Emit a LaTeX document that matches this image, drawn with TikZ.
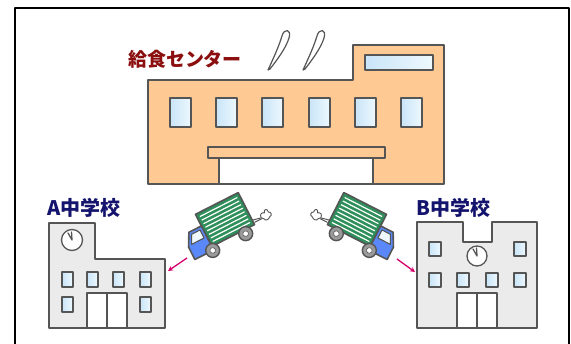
\documentclass[tikz,border=0pt]{standalone}
\usepackage{fontspec}
\usetikzlibrary{arrows.meta}
\newfontfamily\jpfont{Noto Sans CJK JP}
\definecolor{outline}{HTML}{555555}
\definecolor{peach}{HTML}{FFC994}
\definecolor{glassA}{HTML}{C9E5F8}
\definecolor{glassB}{HTML}{EEF8FE}
\definecolor{schoolgray}{HTML}{EBEBEB}
\definecolor{arrowpink}{HTML}{D6006B}
\definecolor{truckgreen}{HTML}{2F8F5B}
\definecolor{cabblue}{HTML}{5B88F8}
\definecolor{titlered}{HTML}{8B0F0F}
\definecolor{navy}{HTML}{14146E}
\definecolor{wheelgray}{HTML}{9A9A9A}
\begin{document}
\begin{tikzpicture}[x=1pt,y=-1pt,line join=round,
  wall/.style={draw=outline,line width=2pt},
  pane/.style={draw=outline,line width=1.4pt,left color=glassA,right color=glassB},
  doorbox/.style={draw=outline,line width=1.6pt,fill=white},
  steam/.style={draw=outline,line width=1.2pt,fill=white},
  label/.style={font=\jpfont\bfseries\fontsize{19}{19}\selectfont,inner sep=0pt},
  route/.style={draw=arrowpink,line width=1.3pt,-{Stealth[length=5pt,width=5pt]}},
  truck/.pic={
    % cargo box with white slats
    \draw[draw=outline,line width=1.6pt,fill=truckgreen] (-24,-18) rectangle (24,18);
    \foreach \s in {-14,-10,...,14}
      \draw[white,line width=1.2pt] (-21,\s) -- (21,\s);
    % cab
    \draw[draw=outline,line width=1.6pt,fill=cabblue]
      (-24,-5) -- (-38,-5) -- (-45,8) -- (-45,22) -- (-24,22) -- cycle;
    \draw[draw=outline,line width=1.1pt,fill=glassB]
      (-27,-2) -- (-36.5,-2) -- (-41,7) -- (-27,7) -- cycle;
    % wheels
    \foreach \w in {-25,12}{
      \draw[draw=outline,line width=1.4pt,fill=wheelgray] (\w,22) circle (7);
      \draw[draw=outline,line width=0.6pt,fill=white] (\w,22) circle (2.8);
    }
    % exhaust puff
    \draw[outline,line width=1pt] (24,13) -- (33,15);
    \draw[outline,line width=1pt] (25,16) -- (33,16);
    \draw[draw=outline,line width=0.9pt,fill=white]
      (33,15) .. controls (33,11) and (36,10) .. (38,12)
      .. controls (39,8) and (43,9) .. (42,13)
      .. controls (45,14) and (44,18) .. (41,18)
      .. controls (39,20) and (35,20) .. (35,17) -- cycle;
  }]
\useasboundingbox (0,0) rectangle (571,344);

% outer frame
\draw[black,line width=2pt] (15,346) -- (15,8) -- (569,8) -- (569,346);

% central kitchen
\draw[wall,fill=peach] (148,80) -- (353,80) -- (353,45) -- (444,45)
  -- (444,184) -- (148,184) -- cycle;
\path[pane] (365,55) rectangle (433,70);
\foreach \x in {170,216,262,309,355,401}
  \path[pane] (\x,98) rectangle ++(21,29);
\draw[wall,fill=white] (219,158) rectangle (373,184);
\draw[wall,fill=peach] (208,147) rectangle (385,158);

% steam
\draw[steam] (268,70) .. controls (274,57) and (279,46) .. (282,36)
  .. controls (284,28) and (292,29) .. (289,38)
  .. controls (286,48) and (277,60) .. (270,69) -- cycle;
\draw[steam] (303,70) .. controls (309,57) and (314,46) .. (317,36)
  .. controls (319,28) and (327,29) .. (324,38)
  .. controls (321,48) and (312,60) .. (305,69) -- cycle;

\node[label,text=titlered] (kitchen) at (185,59) {給食センター};

% school A
\draw[wall,fill=schoolgray] (49,223) -- (95,223) -- (95,259) -- (165,259)
  -- (165,328) -- (49,328) -- cycle;
\draw[draw=outline,line width=1.3pt,fill=white] (72,240) circle (10.5);
\draw[outline,line width=1.3pt,line cap=round] (72,240) -- (68,233) (72,240) -- (71.5,232);
\foreach \x in {62,87,113,140}
  \path[pane] (\x,272) rectangle ++(11,15);
\foreach \x in {62,140}
  \path[pane] (\x,297) rectangle ++(11,15);
\draw[doorbox] (87,293) rectangle (127,328);
\draw[outline,line width=1.6pt] (107,293) -- (107,328);
\node[label,text=navy,anchor=west,font=\jpfont\bfseries\fontsize{20}{20}\selectfont] (schoolA) at (47,208) {A中学校};

% school B
\draw[wall,fill=schoolgray] (417,222) -- (463,222) -- (463,242) -- (492,242)
  -- (492,222) -- (537,222) -- (537,328) -- (417,328) -- cycle;
\draw[draw=outline,line width=1.3pt,fill=white] (477,256) circle (10);
\draw[outline,line width=1.3pt,line cap=round] (477,256) -- (473,249) (477,256) -- (476.5,248);
\foreach \x in {429,514}
  \path[pane] (\x,242) rectangle ++(12,14);
\foreach \x in {429,457,486,514}
  \path[pane] (\x,273) rectangle ++(12,14);
\draw[doorbox] (457,293) rectangle (497,328);
\draw[outline,line width=1.6pt] (477,293) -- (477,328);
\node[label,text=navy,anchor=west,font=\jpfont\bfseries\fontsize{20}{20}\selectfont] (schoolB) at (416,208) {B中学校};

% delivery trucks
\pic[rotate=27] (truckA) at (225,219.5) {truck};
\pic[rotate=-27,xscale=-1] (truckB) at (357,219.5) {truck};

% delivery arrows
\coordinate (routeAfrom) at (187,258);
\coordinate (routeAto) at (168,271);
\coordinate (routeBfrom) at (397,259);
\coordinate (routeBto) at (415,272);
\draw[route] (routeAfrom) -- (routeAto);
\draw[route] (routeBfrom) -- (routeBto);
\end{tikzpicture}
\end{document}
